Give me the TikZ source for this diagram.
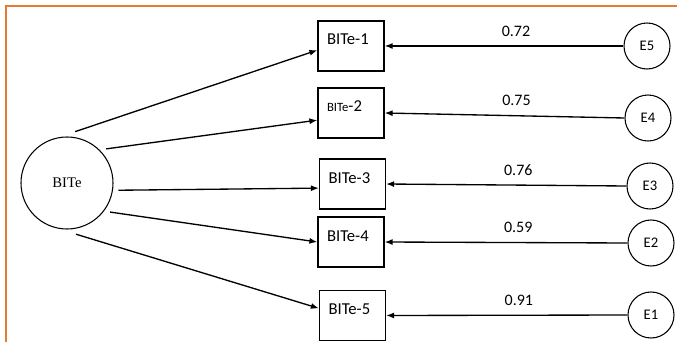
\documentclass[tikz,border=0pt]{standalone}
\usepackage{fontspec}
\setmainfont{Liberation Serif}
\newfontfamily\calfont{Carlito}
\usepackage{tikz}
\usetikzlibrary{arrows.meta}
\definecolor{frameorange}{RGB}{226,124,52}

\begin{document}
\begin{tikzpicture}[x=0.75pt, y=-0.75pt]
    \tikzstyle{item} = [rectangle, draw, line width=0.9pt, inner xsep=6.75pt, inner ysep=0pt, text width=36pt, align=left, text height=18pt, text depth=19.5pt, font=\calfont\fontsize{12.5}{14}\selectfont]
    \tikzstyle{errvar} = [circle, draw, line width=0.8pt, inner sep=0pt, minimum size=34.5pt, font=\calfont\fontsize{11}{13}\selectfont]
    \tikzstyle{latent} = [circle, draw, line width=0.8pt, inner sep=0pt, minimum size=69pt, outer sep=4.5pt, font=\fontsize{11}{13}\selectfont]
    \tikzstyle{arr} = [-{Latex[length=6pt,width=4.5pt]}, line width=1pt]
    \tikzstyle{load} = [pos=0.45, above=3.5pt, font=\calfont\fontsize{12}{14}\selectfont]
    \useasboundingbox (0,0) rectangle (677,342);
    \draw[frameorange, line width=1.1pt] (6,342) -- (6,6) -- (677,6);
    \node[latent] (bite) at (67,183) {BITe};
    \foreach \i/\x/\y in {1/351/46, 3/352.5/184, 4/351/242, 5/352.5/315.5}
        \node[item] (b\i) at (\x,\y) {BITe-\i};
    \node[item] (b2) at (351,113) {{\fontsize{9.5}{10}\selectfont BITe}-2};
    \foreach \i/\x/\y in {5/647/46, 4/648/118, 3/650/186, 2/651/243, 1/651/315}
        \node[errvar] (e\i) at (\x,\y) {E\i};
    % structural paths
    \foreach \b/\a/\t in {1/81/187, 2/41/192, 3/-8/187, 4/-34/180, 5/-80/168}
        \draw[arr] (bite.\a) -- (b\b.\t);
    % error terms
    \foreach \b/\e/\v in {1/5/0.72, 2/4/0.75, 3/3/0.76, 4/2/0.59, 5/1/0.91}
        \draw[arr] (e\e.west) -- node[load] {\v} (b\b.east);
\end{tikzpicture}
\end{document}
